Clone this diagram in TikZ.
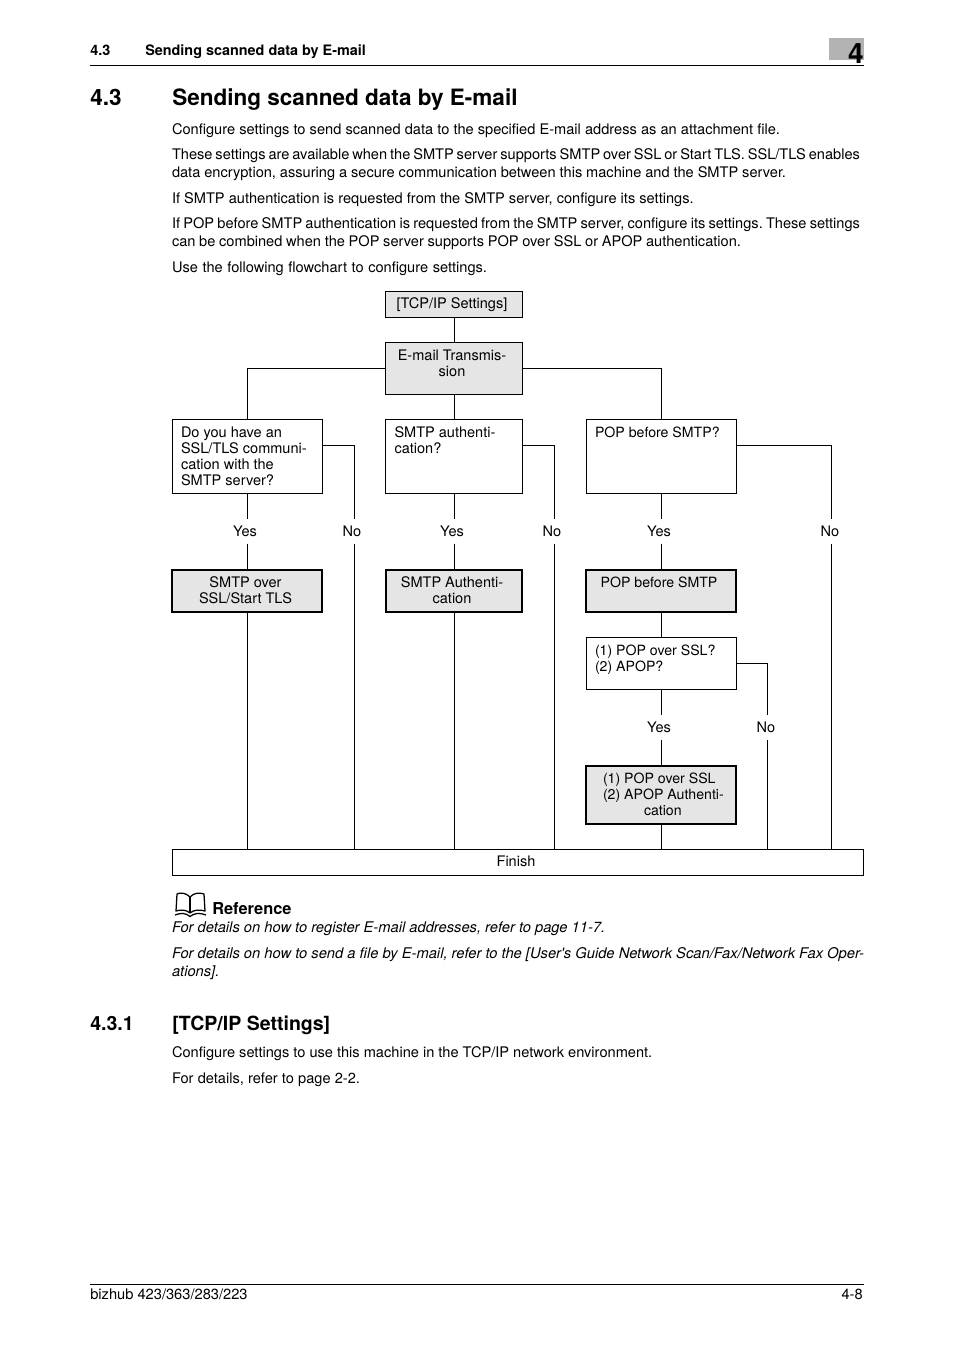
\documentclass[tikz,border=0pt]{standalone}
\usepackage{fontspec}
\setmainfont{TeX Gyre Heros}
\usetikzlibrary{calc}
\frenchspacing
\newdimen\pxu \pxu=0.75pt
% left-aligned box text: width, height, first baseline, left pad, text
\newcommand\bl[5]{\parbox[c][#2\pxu][t]{#1\pxu}{\noindent\rule{0pt}{#3\pxu}\hspace*{#4\pxu}\parbox[t]{\dimexpr#1\pxu-#4\pxu\relax}{\raggedright #5}}}
% centred box text: width, height, first baseline, right pad, text
\newcommand\bc[5]{\parbox[c][#2\pxu][t]{#1\pxu}{\noindent\rule{0pt}{#3\pxu}\parbox[t]{\dimexpr#1\pxu-#4\pxu\relax}{\centering #5}}}
% justified line of a given width
\newcommand\jl[2]{\hbox to #1\pxu{\spaceskip=.278em plus 1em minus .2em #2}}
\newcommand\tightfont{\fontsize{10.6pt}{12pt}\selectfont}
\definecolor{shade}{HTML}{E5E5E5}
\definecolor{tabgray}{HTML}{B3B3B3}
\tikzset{
  base/.style={inner sep=0pt,outer sep=0pt,anchor=center,font=\fontsize{10.9pt}{12pt}\selectfont},
  qbox/.style={base,draw=black,line width=0.75pt,fill=white},
  settab/.style={base,draw=black,line width=1.05pt,fill=shade},
  setbox/.style={base,draw=black,line width=1.3pt,fill=shade},
  ans/.style={base},
  wire/.style={draw=black,line width=0.75pt},
  para/.style={inner sep=0pt,outer sep=0pt,anchor=north west,align=left,font=\fontsize{10.95pt}{13.5pt}\selectfont},
  rulebar/.style={draw=black,line width=0.75pt}
}
\begin{document}
\begin{tikzpicture}[x=0.75pt,y=-0.75pt]
\useasboundingbox (0,0) rectangle (954,1350);
\fill[white] (0,0) rectangle (954,1350);
% page header
\fill[tabgray] (829,38) rectangle (864,60);
\node[inner sep=0pt,anchor=base east,font=\bfseries\fontsize{21pt}{21pt}\selectfont] (chap) at (864,63) {4};
\node[inner sep=0pt,anchor=base west,font=\bfseries\fontsize{10.8pt}{12pt}\selectfont] (hnum) at (90,55) {4.3};
\node[inner sep=0pt,anchor=base west,font=\bfseries\fontsize{10.8pt}{12pt}\selectfont] (htxt) at (145,55) {Sending scanned data by E-mail};
\draw[rulebar] (90,65.5) -- (864,65.5);
% title
\node[inner sep=0pt,anchor=base west,font=\bfseries\fontsize{16.9pt}{20pt}\selectfont] (tnum) at (90,105) {4.3};
\node[inner sep=0pt,anchor=base west,font=\bfseries\fontsize{16.9pt}{20pt}\selectfont] (ttxt) at (172,105) {Sending scanned data by E-mail};
% intro paragraphs
\node[para] (p1) at (172,124) {\jl{608}{Configure settings to send scanned data to the specified E-mail address as an attachment file.}};
\node[para] (p2) at (172,149) {\jl{688}{These settings are available when the SMTP server supports SMTP over SSL or Start TLS. SSL/TLS enables}\\\jl{614}{data encryption, assuring a secure communication between this machine and the SMTP server.}};
\node[para] (p3) at (172,193) {If SMTP authentication is requested from the SMTP server, configure its settings.};
\node[para] (p4) at (172,218) {\jl{688}{If POP before SMTP authentication is requested from the SMTP server, configure its settings. These settings}\\\jl{569}{can be combined when the POP server supports POP over SSL or APOP authentication.}};
\node[para] (p5) at (172,262) {\jl{315}{Use the following flowchart to configure settings.}};
% flowchart boxes
\node[settab] (tcp) at (454,304.5) {\bc{137}{26}{17}{4}{[TCP/IP Settings]}};
\node[settab] (mail) at (454,368.5) {\bc{137}{52}{18}{4}{E-mail Transmis-\\sion}};
\node[qbox] (q1) at (247.5,456.5) {\bl{150}{74}{18}{8.5}{Do you have an\\SSL/TLS communi-\\cation with the\\SMTP server?}};
\node[qbox] (q2) at (454,456.5) {\bl{137}{74}{18}{9}{SMTP authenti-\\cation?}};
\node[qbox] (q3) at (661.5,456.5) {\bl{150}{74}{18}{8.5}{\tightfont POP before SMTP?}};
\node[setbox] (s1) at (247,591) {\bc{150}{42}{17.5}{3}{SMTP over\\SSL/Start TLS}};
\node[setbox] (s2) at (454,591) {\bc{136}{42}{17.5}{4}{SMTP Authenti-\\cation}};
\node[setbox] (s3) at (661,591) {\bc{150}{42}{17.5}{4}{\tightfont POP before SMTP}};
\node[qbox] (q4) at (661.5,663.5) {\bl{150}{52}{17.5}{8.5}{\tightfont (1) POP over SSL?\\(2) APOP?}};
\node[setbox] (s4) at (661,795) {\bl{150}{58}{17}{17}{\tightfont (1) POP over SSL\\(2) APOP Authenti-\\\hspace*{41\pxu}cation}};
\node[qbox] (fin) at (518,862.5) {\bc{691}{26}{17}{4}{Finish}};
% answer labels
\node[ans] (y1) at (247.5,531) {\bc{40}{25}{17.5}{5}{Yes}};
\node[ans] (n1) at (354.5,531) {\bc{40}{25}{17.5}{5}{No}};
\node[ans] (y2) at (454,531) {\bc{40}{25}{17.5}{4}{Yes}};
\node[ans] (n2) at (554.5,531) {\bc{40}{25}{17.5}{5}{No}};
\node[ans] (y3) at (661.5,531) {\bc{40}{25}{17.5}{5}{Yes}};
\node[ans] (n3) at (831.5,531) {\bc{40}{25}{17.5}{3}{No}};
\node[ans] (y4) at (661.5,727) {\bc{40}{25}{17.5}{5}{Yes}};
\node[ans] (n4) at (767.5,727) {\bc{40}{25}{17.5}{3}{No}};
% side exits
\coordinate (q1e) at (322.5,445.5);
\coordinate (q2e) at (522.5,445.5);
\coordinate (q3e) at (736.5,445.5);
% connectors
\draw[wire] (tcp) -- (mail);
\draw[wire] (mail.west) -| (q1.north);
\draw[wire] (mail.south) -- (q2.north);
\draw[wire] (mail.east) -| (q3.north);
\draw[wire] (q1) -- (y1);
\draw[wire] (y1.south) -- (y1.south |- s1.north);
\draw[wire] (q2) -- (y2);
\draw[wire] (y2) -- (s2);
\draw[wire] (q3) -- (y3);
\draw[wire] (y3.south) -- (y3.south |- s3.north);
\draw[wire] (q1e) -| (n1.north);
\draw[wire] (q2e) -| (n2.north);
\draw[wire] (q3e) -| (n3.north);
\draw[wire] (q4.north) -- (q4.north |- s3.south);
\draw[wire] (q4) -- (y4);
\draw[wire] (y4.south) -- (y4.south |- s4.north);
\draw[wire] (q4.east) -| (n4.north);
\draw[wire] (y1.south |- s1.south) -- (y1.south |- fin.north);
\draw[wire] (n1.south) -- (n1.south |- fin.north);
\draw[wire] (s2.south) -- (s2.south |- fin.north);
\draw[wire] (n2.south) -- (n2.south |- fin.north);
\draw[wire] (y4.south |- s4.south) -- (y4.south |- fin.north);
\draw[wire] (n4.south) -- (n4.south |- fin.north);
\draw[wire] (n3.south) -- (n3.south |- fin.north);
% book icon
\begin{scope}[line width=0.95pt,line join=round]
\draw (190,897) .. controls (186,892.5) and (180,892.5) .. (177,894) -- (176,911) .. controls (181,909.5) and (186,909.5) .. (190,913);
\draw (190,897) .. controls (194,892.5) and (200,892.5) .. (204,894) -- (205,911) .. controls (200,909.5) and (194,909.5) .. (190,913);
\draw (190,897) -- (190,913);
\draw (175,915) .. controls (181,912.5) and (186,913) .. (190,916.5) .. controls (194,913) and (200,912.5) .. (206,915);
\end{scope}
\node[inner sep=0pt,anchor=base west,font=\bfseries\fontsize{12.3pt}{14pt}\selectfont] (refh) at (212,914) {Reference};
\node[para,font=\itshape\fontsize{11.03pt}{13.5pt}\selectfont] (r1) at (172,922) {For details on how to register E-mail addresses, refer to page 11-7.};
\node[para,font=\itshape\fontsize{11.03pt}{13.5pt}\selectfont] (r2) at (172,948) {\jl{692}{For details on how to send a file by E-mail, refer to the [User\textquotesingle s Guide Network Scan/Fax/Network Fax Oper-}\\ations].};
% subsection
\node[inner sep=0pt,anchor=base west,font=\bfseries\fontsize{14.65pt}{17pt}\selectfont] (snum) at (90,1030) {4.3.1};
\node[inner sep=0pt,anchor=base west,font=\bfseries\fontsize{14.65pt}{17pt}\selectfont] (stxt) at (172,1030) {[TCP/IP Settings]};
\node[para] (p6) at (172,1047) {Configure settings to use this machine in the TCP/IP network environment.};
\node[para] (p7) at (172,1073) {\jl{188}{For details, refer to page 2-2.}};
% footer
\draw[rulebar] (90,1284.5) -- (864,1284.5);
\node[inner sep=0pt,anchor=base west,font=\fontsize{11pt}{13pt}\selectfont] (fl) at (90,1299) {bizhub 423/363/283/223};
\node[inner sep=0pt,anchor=base east,font=\fontsize{11pt}{13pt}\selectfont] (fr) at (863,1299) {4-8};
\end{tikzpicture}
\end{document}
